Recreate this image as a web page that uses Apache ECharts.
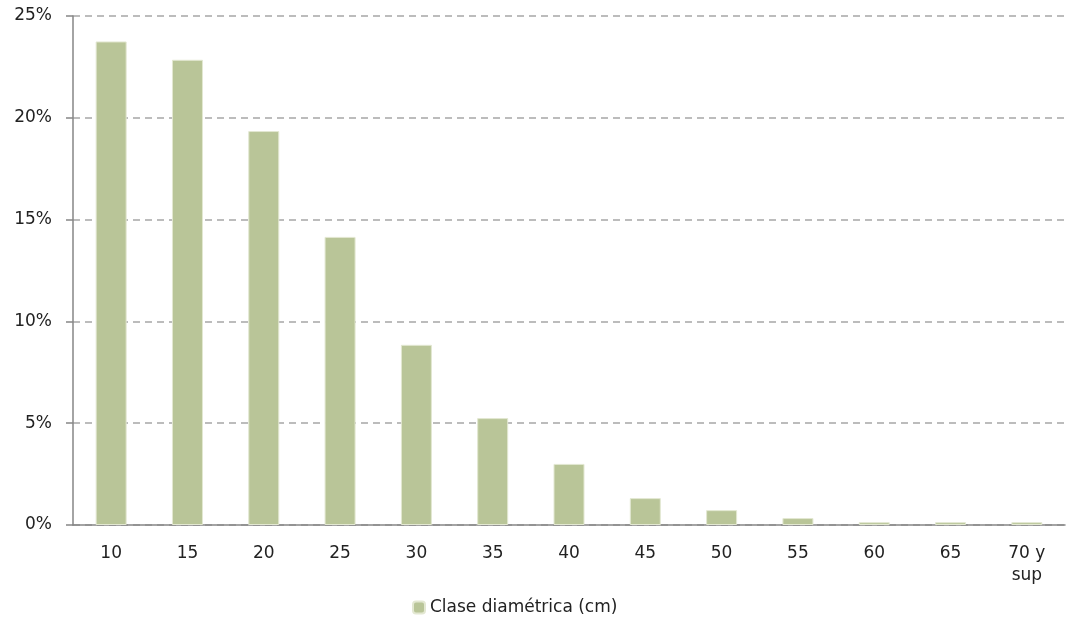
<!DOCTYPE html>
<html>
<head>
<meta charset="utf-8">
<script src="https://cdn.jsdelivr.net/npm/echarts@6/dist/echarts.min.js"></script>
<style>
  html, body { margin: 0; padding: 0; background: #fff; }
  #chart { width: 1069px; height: 619px; }
</style>
</head>
<body>
<div id="chart"></div>
<script>
var categories = ['10', '15', '20', '25', '30', '35', '40', '45', '50', '55', '60', '65', '70 y\nsup'];
var shares = [23.75, 22.85, 19.35, 14.15, 8.85, 5.25, 3.0, 1.32, 0.73, 0.34, 0.14, 0.14, 0.14];
var seriesName = 'Clase diamétrica (cm)';

var myChart = echarts.init(document.getElementById('chart'));
var font = 'DejaVu Sans';

var option = {
  animation: false,
  grid: { left: 73, right: 4, top: 16, bottom: 94 },
  legend: {
    top: 594,
    left: 407,
    itemWidth: 12,
    itemHeight: 12,
    textStyle: { fontFamily: font, fontSize: 17, color: '#222' },
    data: [seriesName]
  },
  xAxis: {
    type: 'category',
    data: categories,
    axisLine: { lineStyle: { color: '#868686', width: 1.5 } },
    axisTick: { length: 7, lineStyle: { color: '#868686', width: 1.5 } },
    axisLabel: { fontFamily: font, fontSize: 17, color: '#222', margin: 18, lineHeight: 22 }
  },
  yAxis: {
    type: 'value',
    min: 0,
    max: 25,
    interval: 5,
    axisLine: { show: true, lineStyle: { color: '#868686', width: 1.5 } },
    axisTick: { show: true, length: 7, lineStyle: { color: '#868686', width: 1.5 } },
    axisLabel: { fontFamily: font, fontSize: 17, color: '#222', margin: 21, formatter: '{value}%' },
    splitLine: { lineStyle: { color: '#a6a6a6', width: 1.5, type: [7, 5] } }
  },
  series: [
    {
      name: seriesName,
      type: 'bar',
      data: shares,
      barWidth: 31,
      itemStyle: { color: '#b9c598', borderColor: '#e3e8d2', borderWidth: 1 }
    }
  ]
};
option && myChart.setOption(option);
</script>
</body>
</html>
